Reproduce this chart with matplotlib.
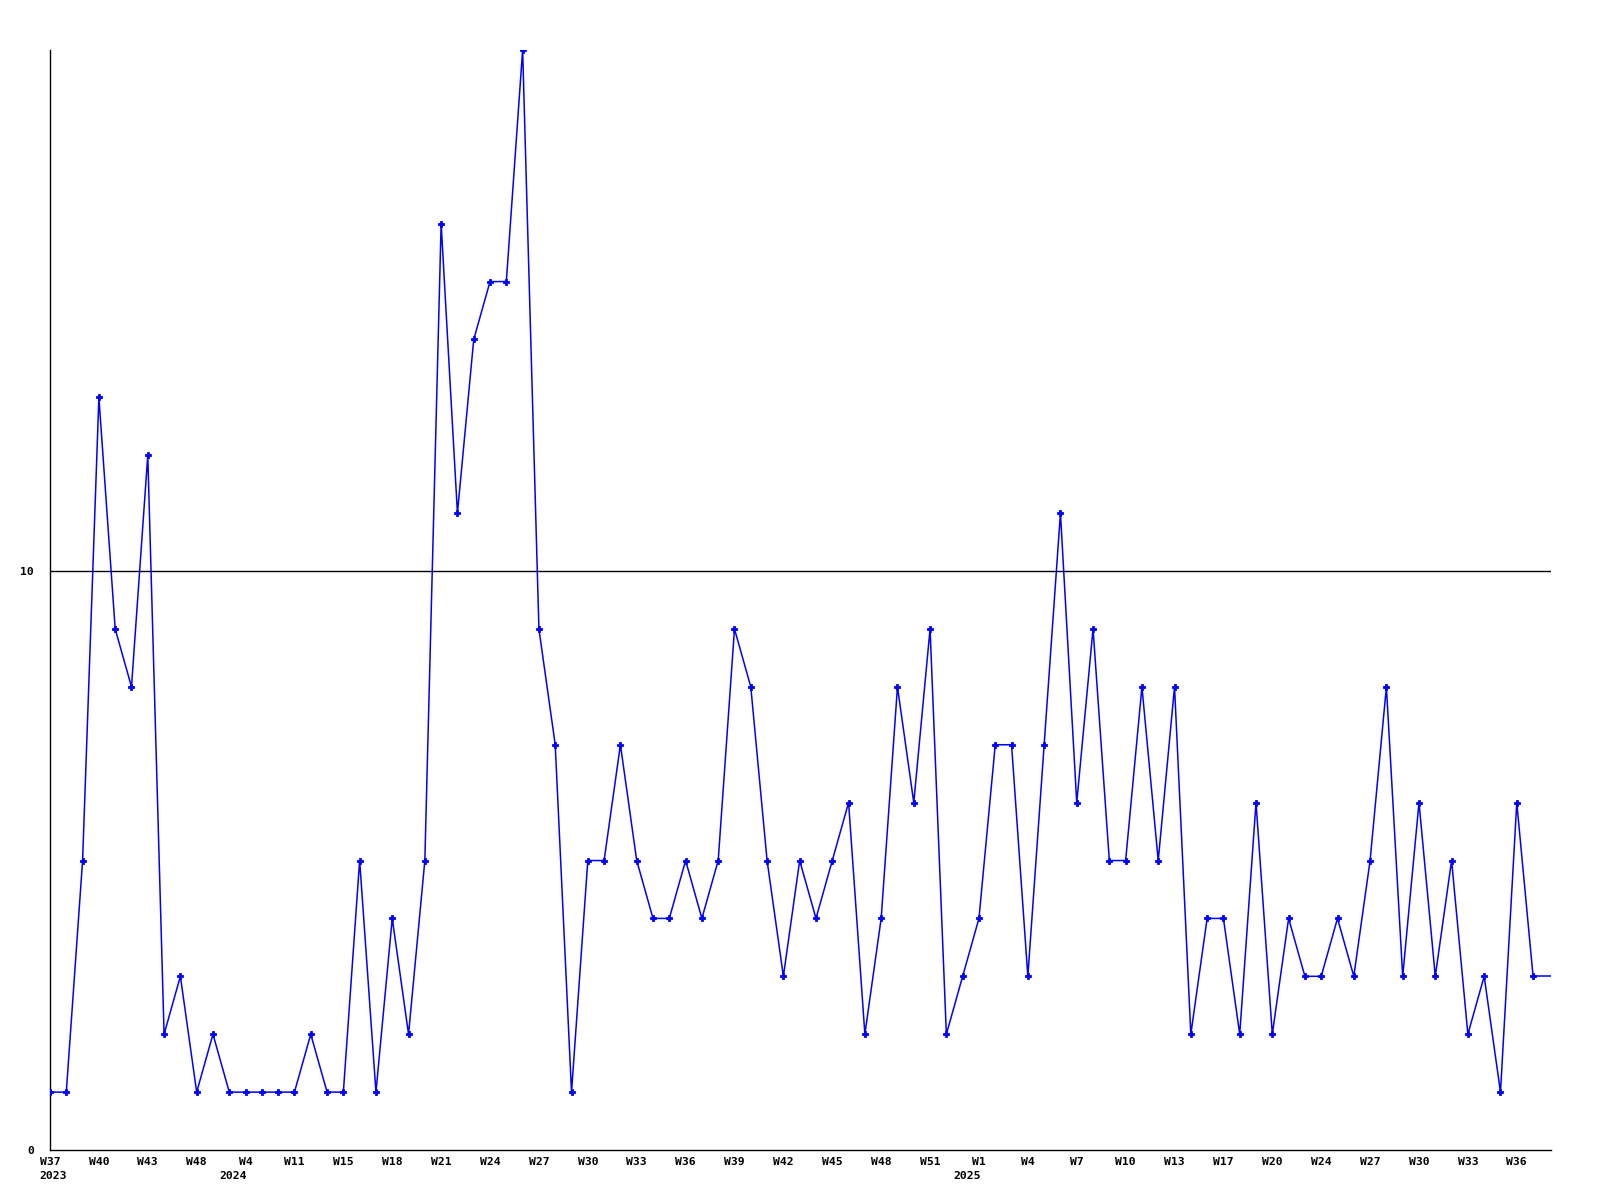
#!/usr/bin/env python3
"""Weekly counts, W37 2023 .. W37 2025."""
import matplotlib
matplotlib.use("Agg")
import matplotlib.pyplot as plt

# one value per plotted week (x is just the index, labels every 3rd point)
values = [1, 1, 5, 13, 9, 8, 12, 2, 3, 1,
          2, 1, 1, 1, 1, 1, 2, 1, 1, 5,
          1, 4, 2, 5, 16, 11, 14, 15, 15, 19,
          9, 7, 1, 5, 5, 7, 5, 4, 4, 5,
          4, 5, 9, 8, 5, 3, 5, 4, 5, 6,
          2, 4, 8, 6, 9, 2, 3, 4, 7, 7,
          3, 7, 11, 6, 9, 5, 5, 8, 5, 8,
          2, 4, 4, 2, 6, 2, 4, 3, 3, 4,
          3, 5, 8, 3, 6, 3, 5, 2, 3, 1,
          6, 3]

week_labels = ["W37", "W40", "W43", "W48", "W4", "W11", "W15", "W18", "W21",
               "W24", "W27", "W30", "W33", "W36", "W39", "W42", "W45", "W48",
               "W51", "W1", "W4", "W7", "W10", "W13", "W17", "W20", "W24",
               "W27", "W30", "W33", "W36"]
year_labels = {0: "2023", 4: "2024", 19: "2025"}  # keyed by label position

X_MAX = 92.1
Y_MAX = 19
FONT = dict(fontfamily="DejaVu Sans Mono", fontweight="bold", fontsize=8.2)

fig = plt.figure(figsize=(16, 12), dpi=100)
ax = fig.add_axes([50 / 1600, 50 / 1200, 1501 / 1600, 1100 / 1200])

xs = list(range(len(values)))
ax.plot(xs, values, color="#0000ff", linewidth=1.1, marker="P",
        markersize=5, markeredgewidth=0.6, markeredgecolor="#0000ff",
        zorder=3)
# line carried on flat to the right edge
ax.plot([xs[-1], X_MAX], [values[-1], values[-1]], color="#0000ff",
        linewidth=1.1, zorder=3)

ax.axhline(10, color="black", linewidth=1)

ax.set_xlim(0, X_MAX)
ax.set_ylim(0, Y_MAX)

ticks = list(range(0, len(values), 3))
ax.set_xticks(ticks)
ax.set_xticklabels(week_labels, **FONT)
ax.set_yticks([0, 10])
ax.set_yticklabels(["0", "10"], **FONT)
ax.tick_params(axis="x", length=0, pad=5)
ax.tick_params(axis="y", length=0, pad=11.5)

# year under the first label of each year
for pos, year in year_labels.items():
    shift = 3 if pos == 0 else -12
    ax.annotate(year, xy=(ticks[pos], 0), xycoords=("data", "axes fraction"),
                xytext=(shift, -21), textcoords="offset pixels",
                ha="center", va="top", **FONT)

for side in ("top", "right"):
    ax.spines[side].set_visible(False)
for side in ("left", "bottom"):
    ax.spines[side].set_color("black")
    ax.spines[side].set_linewidth(1)

fig.savefig("out.png", dpi=100, facecolor="white")
